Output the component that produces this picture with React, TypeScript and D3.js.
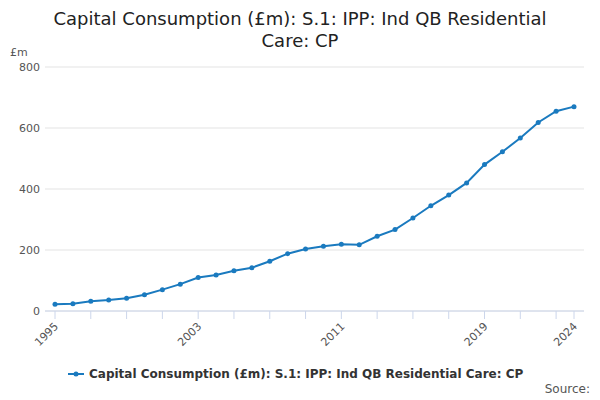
import * as d3 from "d3";

const years = d3.range(1995, 2025);
const values = [22, 24, 32, 36, 42, 53, 70, 88, 110, 118, 132, 142, 163, 188, 203, 212, 219, 217, 245, 267, 305, 345, 380, 420, 480, 522, 567, 618, 655, 670];
const yTicks = [0, 200, 400, 600, 800];
const xLabels = [1995, 2003, 2011, 2019, 2024];
const title = ["Capital Consumption (£m): S.1: IPP: Ind QB Residential", "Care: CP"];
const seriesName = "Capital Consumption (£m): S.1: IPP: Ind QB Residential Care: CP";

const W = 600, H = 400;
const m = { left: 55, right: 26, top: 67, bottom: 89 };
const color = "#1a7abf";
const font = "DejaVu Sans, sans-serif";

export default function App() {
  const x = d3.scaleLinear().domain([1995, 2024]).range([m.left, W - m.right]);
  const y = d3.scaleLinear().domain([0, 800]).range([H - m.bottom, m.top]);
  const line = d3.line<number>().x((_, i) => x(years[i])).y((v) => y(v));
  const tickYears = years.filter((yr) => (yr - 1995) % 2 === 0).concat([2024]);
  return (
    <svg width={W} height={H} style={{ position: "absolute", left: 0, top: 0, fontFamily: font }}>
      <rect width={W} height={H} fill="#fff" />
      {title.map((t, i) => (
        <text key={i} x={300} y={25 + i * 22} textAnchor="middle" fontSize={18} fill="#222">{t}</text>
      ))}
      <text x={10} y={56} fontSize={11} fill="#555">£m</text>
      {yTicks.map((t) => (
        <g key={t}>
          <line x1={m.left - 10} x2={W - m.right + 10} y1={y(t)} y2={y(t)} stroke="#e3e3e3" />
          <text x={40} y={y(t) + 4} textAnchor="end" fontSize={11} fill="#555">{t}</text>
        </g>
      ))}
      <line x1={m.left - 10} x2={W - m.right + 10} y1={y(0)} y2={y(0)} stroke="#ccd6eb" />
      {tickYears.map((yr) => (
        <line key={yr} x1={x(yr)} x2={x(yr)} y1={y(0)} y2={y(0) + 8} stroke="#ccd6eb" />
      ))}
      {xLabels.map((yr) => (
        <text key={yr} transform={`translate(${x(yr) + 4},${y(0) + 16}) rotate(-45)`} textAnchor="end" fontSize={11} fill="#555">{yr}</text>
      ))}
      <path d={line(values) ?? ""} fill="none" stroke={color} strokeWidth={2} />
      {values.map((v, i) => (
        <circle key={i} cx={x(years[i])} cy={y(v)} r={2.5} fill={color} />
      ))}
      <g transform="translate(68,374)">
        <line x1={0} x2={16} y1={0} y2={0} stroke={color} strokeWidth={2} />
        <circle cx={8} cy={0} r={2.5} fill={color} />
        <text x={21} y={4} fontSize={12} fontWeight="bold" fill="#333">{seriesName}</text>
      </g>
      <text x={590} y={393} textAnchor="end" fontSize={12} fill="#555">Source:</text>
    </svg>
  );
}
